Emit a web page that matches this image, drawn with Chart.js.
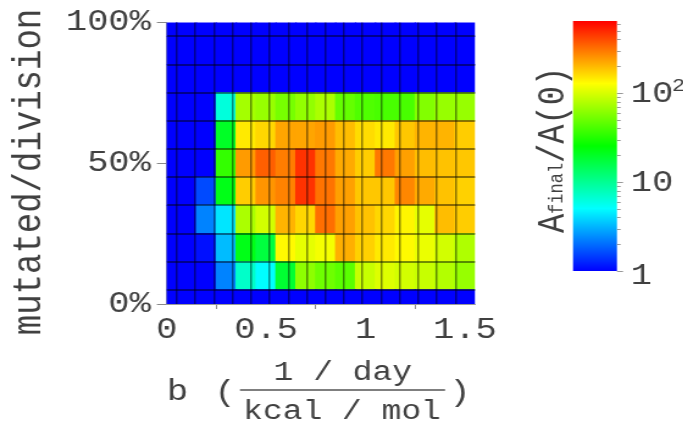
<!DOCTYPE html>
<html><head><meta charset="utf-8">
<script src="https://cdn.jsdelivr.net/npm/chart.js@4/dist/chart.umd.min.js"></script>
<style>
html,body{margin:0;padding:0;background:#fff;overflow:hidden;width:683px;height:425px}
#wrap{width:683px;height:425px;overflow:hidden}
canvas{display:block;transform:scaleX(1.22);transform-origin:0 0}
</style></head><body>
<div id="wrap"><canvas id="c" width="560" height="425"></canvas></div>
<script>
// x categories: b (1/day per kcal/mol)
const bValues = [0,0.1,0.2,0.3,0.4,0.5,0.6,0.7,0.8,0.9,1.0,1.1,1.2,1.3,1.4,1.5];
// y categories: mutated/division (%)
const mutatedPct = [0,10,20,30,40,50,60,70,80,90,100];
// A_final/A(0) per row (one array per mutated/division value)
const ratio0   = [1,1,1,1,1,1,1,1,1,1,1,1,1,1,1,1];
const ratio10  = [1,1,1,2.3,7.1,5.0,18.5,62,51,45,90,103,96,90,79,66];
const ratio20  = [1,1,1.1,3.3,22,17,132,109,120,213,171,146,132,113,96,77];
const ratio30  = [1,1,2.3,4.3,75,96,206,165,321,234,188,165,136,109,194,176];
const ratio40  = [1,1,1.6,22,176,250,283,470,311,234,182,182,274,220,188,171];
const ratio50  = [1,1,1,35,242,354,292,470,301,220,176,301,234,194,188,182];
const ratio60  = [1,1,1,20,146,165,227,227,242,194,160,146,182,206,206,176];
const ratio70  = [1,1,1,6.3,72,66,54,64,75,48,42,40,40,58,66,66];
const ratio80  = [1,1,1,1,1,1,1,1,1,1,1,1,1,1,1,1];
const ratio90  = [1,1,1,1,1,1,1,1,1,1,1,1,1,1,1,1];
const ratio100 = [1,1,1,1,1,1,1,1,1,1,1,1,1,1,1,1];
const ratioRows = [ratio0,ratio10,ratio20,ratio30,ratio40,ratio50,ratio60,ratio70,ratio80,ratio90,ratio100];

// tick labels
const xTickValues = [0,0.5,1,1.5];
const xTickLabels = ['0','0.5','1','1.5'];
const yTickValues = [0,50,100];
const yTickLabels = ['0%','50%','100%'];
const cbTickValues = [1,10,100];
const cbTickLabels = ['1','10','10'];
const cbTickSup = ['','','2'];
const CB_MAX = 645;

const FONT = '"Liberation Mono", monospace';
const TXT = '#404040';

function jet(v){
  let t = Math.log10(Math.max(v,1))/Math.log10(CB_MAX);
  t = Math.min(1, Math.max(0, t));
  const stops = [[0,0,255],[0,255,255],[0,255,0],[255,255,0],[255,0,0]];
  const s = t*4, i = Math.min(3, Math.floor(s)), f = s - i;
  const a = stops[i], b = stops[i+1];
  return 'rgb(' + a.map((c,k)=>Math.round(c + (b[k]-c)*f)).join(',') + ')';
}
const near = (arr, v) => arr.findIndex(t => Math.abs(t - v) < 1e-9);
const xBounds = bValues.slice(0,-1).map(x => x + 0.05);
const yBounds = mutatedPct.slice(0,-1).map(y => y + 5);

const datasets = mutatedPct.map((y, ri) => ({
  data: bValues.map(x => ({x: x, y: [y-5, y+5]})),
  backgroundColor: bValues.map((x, ci) => jet(ratioRows[ri][ci])),
  borderWidth: 0,
  grouped: false,
  barPercentage: 1,
  categoryPercentage: 1,
  inflateAmount: 0.6,
  clip: 0
}));

const decor = {
  id: 'decor',
  afterDraw(chart){
    const ctx = chart.ctx;
    ctx.save();
    ctx.fillStyle = TXT;
    // y title
    ctx.save();
    ctx.translate(33, 172);
    ctx.rotate(-Math.PI/2);
    ctx.font = '34px ' + FONT;
    ctx.textAlign = 'center'; ctx.textBaseline = 'alphabetic';
    ctx.fillText('mutated/division', 0, 0);
    ctx.restore();
    // x title: b ( 1/day / kcal/mol )
    ctx.textAlign = 'center'; ctx.textBaseline = 'alphabetic';
    ctx.font = '29px ' + FONT;
    ctx.fillText('b', 145.5, 400);
    ctx.fillText('(', 184.4, 401);
    ctx.fillText(')', 377, 401);
    ctx.font = '27px ' + FONT;
    ctx.fillText('1 / day', 281, 380);
    ctx.fillText('kcal / mol', 280.3, 419);
    ctx.strokeStyle = '#555'; ctx.lineWidth = 1.3;
    ctx.beginPath(); ctx.moveTo(196.7, 390); ctx.lineTo(364.8, 390); ctx.stroke();

    // colour bar
    const cbL = 469.7, cbR = 505.7, cbT = 21, cbB = 271;
    const g = ctx.createLinearGradient(0, cbB, 0, cbT);
    ['rgb(0,0,255)','rgb(0,255,255)','rgb(0,255,0)','rgb(255,255,0)','rgb(255,0,0)'].forEach((c,i)=>g.addColorStop(i/4, c));
    ctx.fillStyle = g;
    ctx.fillRect(cbL, cbT, cbR-cbL, cbB-cbT);
    const yOf = v => cbB - Math.log10(v)/Math.log10(CB_MAX)*(cbB-cbT);
    ctx.strokeStyle = '#999'; ctx.lineWidth = 1;
    for (let d = 1; d <= 100; d *= 10){
      for (let m = 1; m <= 9; m++){
        const v = d*m; if (v > CB_MAX) break;
        const y = Math.round(yOf(v)) + 0.5;
        ctx.beginPath(); ctx.moveTo(cbR, y); ctx.lineTo(cbR + (m===1?5:3), y); ctx.stroke();
      }
    }
    ctx.fillStyle = TXT;
    ctx.textAlign = 'left'; ctx.textBaseline = 'middle';
    cbTickValues.forEach((v,i)=>{
      const y = yOf(v) + (i===0 ? 5 : 1);
      ctx.font = '29px ' + FONT;
      ctx.fillText(cbTickLabels[i], 517, y);
      if (cbTickSup[i]){
        const w = ctx.measureText(cbTickLabels[i]).width;
        ctx.font = '18px ' + FONT;
        ctx.fillText(cbTickSup[i], 517 + w - 1, y - 8);
      }
    });
    // colour bar title: A_final/A(0)
    ctx.save();
    ctx.translate(461.5, 150);
    ctx.rotate(-Math.PI/2);
    ctx.textAlign = 'left'; ctx.textBaseline = 'alphabetic';
    const big = '32px ' + FONT, small = '17px ' + FONT;
    ctx.font = big; const wA = ctx.measureText('A').width, wR = ctx.measureText('/A(0)').width;
    ctx.font = small; const wS = ctx.measureText('final').width;
    let x0 = -(wA + wS + wR)/2;
    ctx.font = big; ctx.fillText('A', x0, 0); x0 += wA;
    ctx.font = small; ctx.fillText('final', x0, -1); x0 += wS;
    ctx.font = big; ctx.fillText('/A(0)', x0, 0);
    ctx.restore();
    ctx.restore();
  }
};

const cellLine = 'rgba(0,0,0,0.45)';
new Chart(document.getElementById('c'), {
  type: 'bar',
  data: { datasets },
  options: {
    responsive: false,
    maintainAspectRatio: false,
    animation: false,
    devicePixelRatio: 1,
    layout: { padding: { top: 19, right: 170.7, bottom: 81, left: 0 } },
    plugins: { legend: { display: false }, tooltip: { enabled: false } },
    scales: {
      x: {
        type: 'linear', min: 0, max: 1.55, offset: false,
        afterBuildTicks: ax => { ax.ticks = xTickValues.map(v => ({value: v})); },
        afterFit: ax => { ax.height = 40; },
        ticks: {
          autoSkip: false, maxRotation: 0, color: TXT, padding: 4,
          font: { family: FONT, size: 29 },
          callback: v => { const i = near(xTickValues, v); return i >= 0 ? xTickLabels[i] : ''; }
        },
        grid: { drawOnChartArea: false, tickLength: 5, tickColor: '#8a8a8a' },
        border: { display: true, color: '#9a9a9a' }
      },
      xg: {
        type: 'linear', axis: 'x', position: 'bottom', min: 0, max: 1.55,
        afterBuildTicks: ax => { ax.ticks = xBounds.map(v => ({value: v})); },
        afterFit: ax => { ax.height = 0; },
        ticks: { display: false },
        grid: { z: 1, color: cellLine, lineWidth: 1.5, drawTicks: false },
        border: { display: false }
      },
      y: {
        type: 'linear', min: 0, max: 100, stacked: false,
        afterBuildTicks: ax => { ax.ticks = yTickValues.map(v => ({value: v})); },
        afterFit: ax => { ax.width = 136.6; },
        ticks: {
          autoSkip: false, color: TXT, padding: 5,
          font: { family: FONT, size: 29 },
          callback: v => { const i = near(yTickValues, v); return i >= 0 ? yTickLabels[i] : ''; }
        },
        grid: { drawOnChartArea: false, tickLength: 8, tickColor: '#8a8a8a' },
        border: { display: true, color: '#9a9a9a' }
      },
      yg: {
        type: 'linear', axis: 'y', position: 'left', min: 0, max: 100,
        afterBuildTicks: ax => { ax.ticks = yBounds.map(v => ({value: v})); },
        afterFit: ax => { ax.width = 0; },
        ticks: { display: false },
        grid: { z: 1, color: cellLine, lineWidth: 2, drawTicks: false },
        border: { display: false }
      }
    }
  },
  plugins: [decor]
});
</script>
</body></html>
